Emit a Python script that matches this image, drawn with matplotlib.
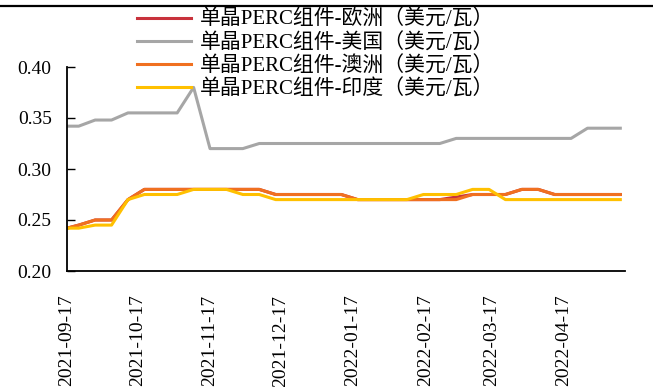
import matplotlib
matplotlib.use("Agg")
import matplotlib.pyplot as plt
import matplotlib.dates as mdates
from matplotlib.lines import Line2D
import pandas as pd

plt.rcParams['font.family'] = ['Liberation Serif', 'Noto Sans CJK SC', 'DejaVu Sans']

# 周度报价：首个点为 9/17，之后每周三
dates = [pd.Timestamp("2021-09-17")] + list(pd.date_range("2021-09-22", "2022-05-11", freq="7D"))

europe = [0.242, 0.245, 0.25, 0.25, 0.27,
          0.28, 0.28, 0.28, 0.28, 0.28, 0.28, 0.28, 0.28,
          0.275, 0.275, 0.275, 0.275, 0.275,
          0.27, 0.27, 0.27, 0.27, 0.27, 0.27, 0.2725,
          0.275, 0.275, 0.275, 0.28, 0.28,
          0.275, 0.275, 0.275, 0.275, 0.275]
usa = [0.342, 0.342, 0.348, 0.348, 0.355, 0.355, 0.355, 0.355, 0.38,
       0.32, 0.32, 0.32,
       0.325, 0.325, 0.325, 0.325, 0.325, 0.325, 0.325, 0.325, 0.325, 0.325, 0.325, 0.325,
       0.33, 0.33, 0.33, 0.33, 0.33, 0.33, 0.33, 0.33,
       0.34, 0.34, 0.34]
australia = [0.242, 0.245, 0.25, 0.25, 0.27,
             0.28, 0.28, 0.28, 0.28, 0.28, 0.28, 0.28, 0.28,
             0.275, 0.275, 0.275, 0.275, 0.275,
             0.27, 0.27, 0.27, 0.27, 0.27, 0.27, 0.27,
             0.275, 0.275, 0.275, 0.28, 0.28,
             0.275, 0.275, 0.275, 0.275, 0.275]
india = [0.242, 0.242, 0.245, 0.245, 0.27,
         0.275, 0.275, 0.275, 0.28, 0.28, 0.28, 0.275, 0.275,
         0.27, 0.27, 0.27, 0.27, 0.27, 0.27, 0.27, 0.27, 0.27,
         0.275, 0.275, 0.275, 0.28, 0.28,
         0.27, 0.27, 0.27, 0.27, 0.27, 0.27, 0.27, 0.27]

labels = ["单晶PERC组件-欧洲（美元/瓦）", "单晶PERC组件-美国（美元/瓦）",
          "单晶PERC组件-澳洲（美元/瓦）", "单晶PERC组件-印度（美元/瓦）"]
colors = ["#C8323C", "#A6A6A6", "#F07020", "#FFC000"]
yticks = [0.20, 0.25, 0.30, 0.35, 0.40]
xticks = pd.date_range("2021-09-01", "2022-04-01", freq="MS") + pd.Timedelta(days=16)

fig = plt.figure(figsize=(6.53, 3.87), dpi=100)
ax = fig.add_axes([67 / 653, 1 - 271 / 387, (625 - 67) / 653, (271 - 67) / 387])

for vals, lab, c in zip([europe, usa, australia, india], labels, colors):
    ax.plot(dates, vals, color=c, lw=2.2, label=lab)

ax.set_ylim(0.20, 0.40)
ax.set_yticks(yticks)
ax.set_yticklabels([f"{v:.2f}" for v in yticks])
ax.set_xlim(pd.Timestamp("2021-09-17"), pd.Timestamp("2022-05-13"))
ax.set_xticks(xticks)
ax.xaxis.set_major_formatter(mdates.DateFormatter("%Y-%m-%d"))
ax.tick_params(axis="x", length=0, pad=17, labelsize=14, labelrotation=90)
ax.tick_params(axis="y", direction="in", length=6, width=1, pad=11, labelsize=14)

for s in ["top", "right"]:
    ax.spines[s].set_visible(False)
for s in ["left", "bottom"]:
    ax.spines[s].set_linewidth(1.3)

leg = fig.legend(loc="upper left", bbox_to_anchor=(137 / 653, 1 - 10 / 387), frameon=False,
                 fontsize=15, handlelength=2.6, handletextpad=0.4, labelspacing=0.14,
                 borderpad=0, borderaxespad=0)

# 页眉横线
fig.add_artist(Line2D([0, 1], [1 - 6 / 387] * 2, color="black", lw=1.6))

fig.savefig("out.png", dpi=100)
